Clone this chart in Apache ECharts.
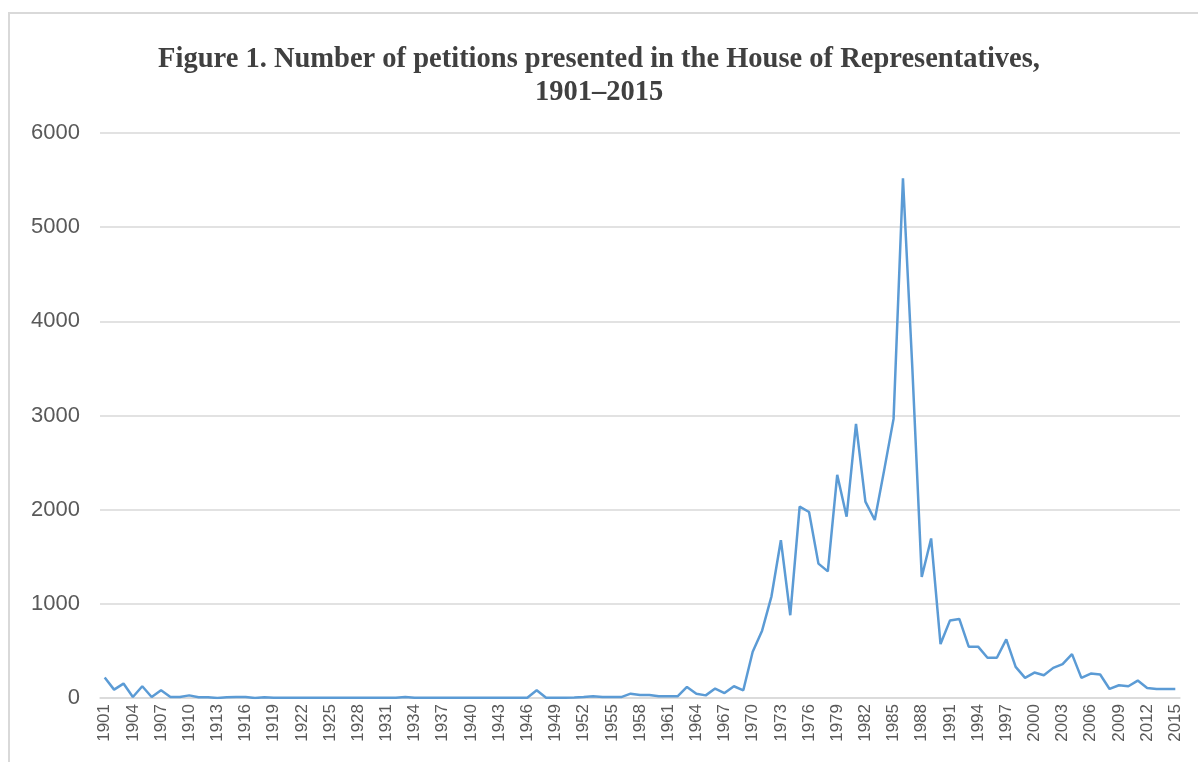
<!DOCTYPE html>
<html>
<head>
<meta charset="utf-8">
<script src="https://cdn.jsdelivr.net/npm/echarts@6/dist/echarts.min.js"></script>
<style>
  body, html {
    margin: 0;
    padding: 0;
    width: 1198px;
    height: 762px;
    overflow: hidden;
    background: #ffffff;
  }
  #frame {
    position: absolute;
    left: 8px;
    top: 12px;
    width: 1300px;
    height: 900px;
    border: 2px solid #d9d9d9;
    box-sizing: border-box;
  }
  #chart {
    position: absolute;
    left: 0;
    top: 0;
    width: 1198px;
    height: 762px;
  }
</style>
</head>
<body>
<div id="frame"></div>
<div id="chart"></div>
<script type="text/javascript">
  const firstYear = 1901;
  const lastYear = 2015;
  const years = [];
  for (let y = firstYear; y <= lastYear; y++) {
    years.push(String(y));
  }

  // petitions presented per year
  const petitions = [
    217, 89, 153, 11, 125, 11, 82, 11, 11, 28,          // 1901-1910
    7, 7, 0, 7, 11, 11, 0, 7, 2, 2,                     // 1911-1920
    2, 2, 2, 2, 2, 2, 2, 2, 2, 2,                       // 1921-1930
    2, 2, 10, 2, 2, 2, 2, 2, 2, 2,                      // 1931-1940
    2, 2, 2, 2, 2, 2, 82, 2, 2, 3,                      // 1941-1950
    5, 10, 18, 10, 10, 10, 46, 32, 32, 18,              // 1951-1960
    18, 18, 117, 46, 28, 100, 53, 125, 82, 491,         // 1961-1970
    715, 1080, 1676, 879, 2032, 1975, 1427, 1345, 2370, 1925, // 1971-1980
    2911, 2085, 1890, 2420, 2964, 5520, 3500, 1285, 1694, 573, // 1981-1990
    822, 840, 545, 545, 427, 427, 623, 331, 214, 270,   // 1991-2000
    242, 320, 360, 466, 214, 260, 249, 96, 135, 125,    // 2001-2010
    185, 107, 96, 96, 96                                // 2011-2015
  ];

  const yMin = 0;
  const yMax = 6000;
  const yStep = 1000;

  const titleText = "Figure 1. Number of petitions presented in the House of Representatives,\n1901\u20132015";

  let chart = echarts.init(document.getElementById("chart"));
  let option = {
    backgroundColor: "transparent",
    animation: false,
    title: {
      text: titleText,
      left: "center",
      top: 38,
      textStyle: {
        fontFamily: "Liberation Serif",
        fontWeight: "bold",
        fontSize: 28.5,
        lineHeight: 33,
        color: "#404040",
        align: "center",
      },
    },
    grid: {
      left: 100,
      right: 18,
      top: 133,
      bottom: 64,
    },
    xAxis: {
      type: "category",
      data: years,
      boundaryGap: true,
      axisLine: { show: true, lineStyle: { color: "#d9d9d9", width: 1.5 } },
      axisTick: { show: false },
      axisLabel: {
        interval: 2,
        rotate: 90,
        margin: 6,
        fontFamily: "Liberation Sans",
        fontSize: 17,
        color: "#595959",
      },
    },
    yAxis: {
      type: "value",
      min: yMin,
      max: yMax,
      interval: yStep,
      axisLine: { show: false },
      axisTick: { show: false },
      splitLine: { lineStyle: { color: "#d9d9d9", width: 1.5 } },
      axisLabel: {
        margin: 20,
        fontFamily: "Liberation Sans",
        fontSize: 22,
        color: "#595959",
        formatter: function (value) {
          return String(value);
        },
      },
    },
    series: [
      {
        type: "line",
        data: petitions,
        symbol: "none",
        lineStyle: { color: "#5b9bd5", width: 2.5 },
      },
    ],
  };
  chart.setOption(option);
</script>
</body>
</html>
